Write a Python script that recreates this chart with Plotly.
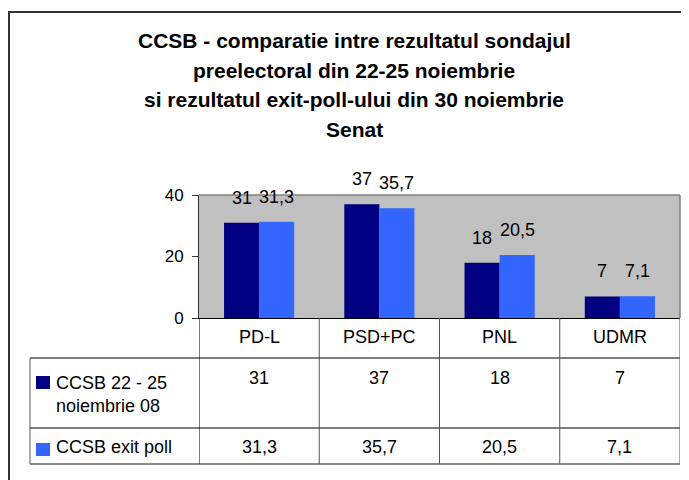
import plotly.graph_objects as go

# ---- data ----
categories = ["PD-L", "PSD+PC", "PNL", "UDMR"]
series_names = ["CCSB 22 - 25<br>noiembrie 08", "CCSB exit poll"]
survey_values = [31, 37, 18, 7]
exitpoll_values = [31.3, 35.7, 20.5, 7.1]
y_ticks = [0, 20, 40]
title_lines = [
    "CCSB - comparatie intre rezultatul sondajul",
    "preelectoral din 22-25 noiembrie",
    "si rezultatul exit-poll-ului din 30 noiembrie",
    "Senat",
]

# ---- style ----
OFF = 8  # default page body margin
W, H = 689 - OFF, 480 - OFF
PLOT_L, PLOT_R, PLOT_T, PLOT_B = 199, 680, 195, 318  # page pixels
L = PLOT_L - OFF
R = W - (PLOT_R - OFF)
T = PLOT_T - OFF
B = H - (PLOT_B - OFF)
PW, PH = W - L - R, H - T - B
DARK = "#000080"
LIGHT = "#3366FF"
FONT = "Arial, Liberation Sans, sans-serif"


def px_x(px):
    return (px - PLOT_L) / PW


def px_y(py):
    return (PLOT_B - py) / PH


def fmt(v):
    return f"{v:g}".replace(".", ",")


series = [(series_names[0], survey_values, DARK), (series_names[1], exitpoll_values, LIGHT)]

fig = go.Figure()
for name, vals, col in series:
    fig.add_trace(go.Bar(x=categories, y=vals, name=name, marker_color=col,
                         marker_line_width=0, showlegend=False))

annotations = []
shapes = []

# data labels above bars
for si, (name, vals, col) in enumerate(series):
    shift = -17.5 if si == 0 else 17.5
    for c, v in zip(categories, vals):
        annotations.append(dict(x=c, y=v, xref="x", yref="y", text=fmt(v),
                                showarrow=False, xshift=shift, yshift=25,
                                yanchor="middle", xanchor="center",
                                font=dict(family=FONT, size=18, color="#000")))

# title
for i, line in enumerate(title_lines):
    annotations.append(dict(x=px_x(354), y=px_y(40 + 30 * i), xref="paper", yref="paper",
                            text="<b>" + line + "</b>", showarrow=False,
                            xanchor="center", yanchor="middle",
                            font=dict(family=FONT, size=21, color="#000")))

# data table
cat_y = 337
row_y = [378, 447]
for c in categories:
    annotations.append(dict(x=c, y=px_y(cat_y), xref="x", yref="paper", text=c,
                            showarrow=False, yanchor="middle",
                            font=dict(family=FONT, size=18, color="#000")))
for ri, (name, vals, col) in enumerate(series):
    for c, v in zip(categories, vals):
        annotations.append(dict(x=c, y=px_y(row_y[ri]), xref="x", yref="paper", text=fmt(v),
                                showarrow=False, yanchor="middle",
                                font=dict(family=FONT, size=18, color="#000")))

# row labels
annotations.append(dict(x=px_x(54), y=px_y(394), xref="paper", yref="paper",
                        text=series_names[0], showarrow=False, xanchor="left",
                        yanchor="middle", align="left",
                        font=dict(family=FONT, size=18, color="#000")))
annotations.append(dict(x=px_x(54), y=px_y(447), xref="paper", yref="paper",
                        text=series_names[1], showarrow=False, xanchor="left",
                        yanchor="middle", align="left",
                        font=dict(family=FONT, size=18, color="#000")))

# legend keys
for (ky, (name, vals, col)) in zip([376, 443], series):
    shapes.append(dict(type="rect", xref="paper", yref="paper",
                       x0=px_x(36), x1=px_x(50), y0=px_y(ky + 13), y1=px_y(ky),
                       fillcolor=col, line=dict(width=0)))

# table grid
hline_col = "#000000"
vline_col = "#555555"
for yy in [358, 428]:
    shapes.append(dict(type="line", xref="paper", yref="paper",
                       x0=px_x(30), x1=px_x(680), y0=px_y(yy), y1=px_y(yy),
                       line=dict(color=hline_col, width=1)))
shapes.append(dict(type="line", xref="paper", yref="paper",
                   x0=px_x(30), x1=px_x(680), y0=px_y(464), y1=px_y(464),
                   line=dict(color="#666666", width=1.5)))
shapes.append(dict(type="line", xref="paper", yref="paper",
                   x0=px_x(30), x1=px_x(30), y0=px_y(358), y1=px_y(464),
                   line=dict(color=vline_col, width=1)))
for k in range(len(categories) + 1):
    shapes.append(dict(type="line", xref="x", yref="paper",
                       x0=k - 0.5, x1=k - 0.5, y0=0, y1=px_y(464),
                       line=dict(color=vline_col if k > 0 else "#000000", width=1)))

# plot area border (top/right gray)
shapes.append(dict(type="line", xref="paper", yref="paper", x0=0, x1=1, y0=1, y1=1,
                   line=dict(color="#808080", width=1.5)))
shapes.append(dict(type="line", xref="paper", yref="paper", x0=1, x1=1, y0=0, y1=1,
                   line=dict(color="#808080", width=1.5)))

# outer chart border
shapes.append(dict(type="rect", xref="paper", yref="paper",
                   x0=px_x(9), x1=px_x(720), y0=px_y(520), y1=px_y(12),
                   line=dict(color="#333333", width=2), fillcolor="rgba(0,0,0,0)",
                   layer="above"))

fig.update_layout(
    width=W, height=H,
    margin=dict(l=L, r=R, t=T, b=B, pad=0),
    paper_bgcolor="white",
    plot_bgcolor="#C0C0C0",
    barmode="group",
    bargap=0.4167,
    bargroupgap=0,
    showlegend=False,
    annotations=annotations,
    shapes=shapes,
    font=dict(family=FONT, size=17, color="#000"),
)
fig.update_xaxes(range=[-0.5, 3.5], showticklabels=False, ticks="", showgrid=False,
                 zeroline=False, showline=True, linecolor="#000000", linewidth=1)
fig.update_yaxes(range=[0, 40], tickvals=y_ticks, ticks="outside", ticklen=6,
                 tickcolor="#333333", showgrid=False, zeroline=False,
                 showline=True, linecolor="#333333", linewidth=1,
                 ticklabelstandoff=5, tickfont=dict(family=FONT, size=17, color="#000"))

fig.write_html("out.html")
